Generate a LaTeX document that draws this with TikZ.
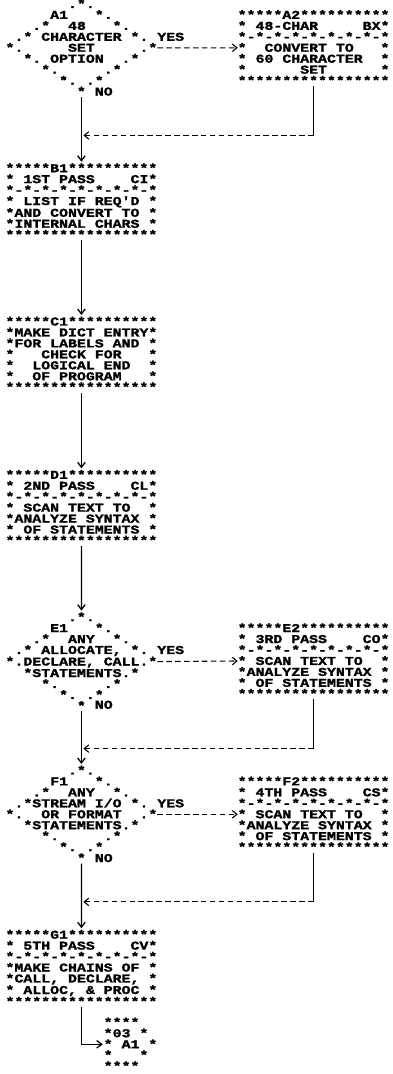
\documentclass[tikz,border=0pt]{standalone}
\usepackage{fontspec}
\newfontfamily\prt{Liberation Mono}[FakeStretch=1.24,FakeBold=1.6]
\usetikzlibrary{arrows.meta}
\newcommand\prfont{\prt\bfseries\fontsize{12pt}{10.95pt}\selectfont\setbox0\hbox{M}\fontdimen2\font=\wd0\relax}
\newcommand\prline[1]{\hbox{\vrule width0pt height9.4pt depth1.55pt\relax#1}}
\newcommand\prblock[1]{\vtop{\offinterlineskip#1}}
\tikzset{
  chart/.style={inner sep=0pt,outer sep=0pt,anchor=north west,font=\prfont},
  lbl/.style={inner sep=0pt,outer sep=0pt,anchor=north west,font=\prfont},
  flow/.style={line width=1.3pt,-{Straight Barb[length=5pt,width=7.5pt]},shorten >=1pt},
  wire/.style={line width=1.3pt},
  dflow/.style={line width=1.1pt,dash pattern=on 5.5pt off 3.43pt,-{Straight Barb[length=4.5pt,width=7.5pt]}},
}
\begin{document}
\begin{tikzpicture}[x=8.93pt,y=-10.95pt]
\useasboundingbox[fill=white] (-10pt,4pt) rectangle (382pt,-1070pt);

% ---------- A row ----------
\node[chart] (A1) at (-0.5,-0.5) {\prblock{%
\prline{~~~~~~~.*.}
\prline{~~~~~A1~~~*.}
\prline{~~~.*~~48~~~*.}
\prline{~.*~CHARACTER~*.}
\prline{*.~~~~~SET~~~~~.*}
\prline{~~*.~OPTION~~.*}
\prline{~~~~*.~~~~~.*}
\prline{~~~~~~*.~.*}
\prline{~~~~~~~~*}}};
\node[lbl] (A1yes) at (16.5,2.5) {\prblock{\prline{YES}}};
\node[lbl] (A1no) at (9.5,7.5) {\prblock{\prline{NO}}};

\node[chart] (A2) at (25.5,0.5) {\prblock{%
\prline{*****A2**********}
\prline{*~48-CHAR~~~~~BX*}
\prline{*-*-*-*-*-*-*-*-*}
\prline{*~~CONVERT~TO~~~*}
\prline{*~60~CHARACTER~~*}
\prline{*~~~~~~SET~~~~~~*}
\prline{*****************}}};

% ---------- B, C, D ----------
\node[chart] (B1) at (-0.5,14.5) {\prblock{%
\prline{*****B1**********}
\prline{*~1ST~PASS~~~~CI*}
\prline{*-*-*-*-*-*-*-*-*}
\prline{*~LIST~IF~REQ'D~*}
\prline{*AND~CONVERT~TO~*}
\prline{*INTERNAL~CHARS~*}
\prline{*****************}}};

\node[chart] (C1) at (-0.5,28.5) {\prblock{%
\prline{*****C1**********}
\prline{*MAKE~DICT~ENTRY*}
\prline{*FOR~LABELS~AND~*}
\prline{*~~~CHECK~FOR~~~*}
\prline{*~~LOGICAL~END~~*}
\prline{*~~OF~PROGRAM~~~*}
\prline{*****************}}};

\node[chart] (D1) at (-0.5,42.5) {\prblock{%
\prline{*****D1**********}
\prline{*~2ND~PASS~~~~CL*}
\prline{*-*-*-*-*-*-*-*-*}
\prline{*~SCAN~TEXT~TO~~*}
\prline{*ANALYZE~SYNTAX~*}
\prline{*~OF~STATEMENTS~*}
\prline{*****************}}};

% ---------- E row ----------
\node[chart] (E1) at (-0.5,55.5) {\prblock{%
\prline{~~~~~~~.*.}
\prline{~~~~~E1~~~*.}
\prline{~~~.*~~ANY~~*.}
\prline{~.*~ALLOCATE,~*.}
\prline{*.DECLARE,~CALL.*}
\prline{~~*STATEMENTS.*}
\prline{~~~~*.~~~~~.*}
\prline{~~~~~~*.~.*}
\prline{~~~~~~~~*}}};
\node[lbl] (E1yes) at (16.5,58.5) {\prblock{\prline{YES}}};
\node[lbl] (E1no) at (9.5,63.5) {\prblock{\prline{NO}}};

\node[chart] (E2) at (25.5,56.5) {\prblock{%
\prline{*****E2**********}
\prline{*~3RD~PASS~~~~CO*}
\prline{*-*-*-*-*-*-*-*-*}
\prline{*~SCAN~TEXT~TO~~*}
\prline{*ANALYZE~SYNTAX~*}
\prline{*~OF~STATEMENTS~*}
\prline{*****************}}};

% ---------- F row ----------
\node[chart] (F1) at (-0.5,69.5) {\prblock{%
\prline{~~~~~~~.*.}
\prline{~~~~~F1~~~*.}
\prline{~~~.*~~ANY~~*.}
\prline{~.*STREAM~I/O~*.}
\prline{*.~~OR~FORMAT~~.*}
\prline{~~*STATEMENTS.*}
\prline{~~~~*.~~~~~.*}
\prline{~~~~~~*.~.*}
\prline{~~~~~~~~*}}};
\node[lbl] (F1yes) at (16.5,72.5) {\prblock{\prline{YES}}};
\node[lbl] (F1no) at (9.5,77.5) {\prblock{\prline{NO}}};

\node[chart] (F2) at (25.5,70.5) {\prblock{%
\prline{*****F2**********}
\prline{*~4TH~PASS~~~~CS*}
\prline{*-*-*-*-*-*-*-*-*}
\prline{*~SCAN~TEXT~TO~~*}
\prline{*ANALYZE~SYNTAX~*}
\prline{*~OF~STATEMENTS~*}
\prline{*****************}}};

% ---------- G row ----------
\node[chart] (G1) at (-0.5,84.5) {\prblock{%
\prline{*****G1**********}
\prline{*~5TH~PASS~~~~CV*}
\prline{*-*-*-*-*-*-*-*-*}
\prline{*MAKE~CHAINS~OF~*}
\prline{*CALL,~DECLARE,~*}
\prline{*~ALLOC,~\&~PROC~*}
\prline{*****************}}};

\node[chart] (C03) at (10.5,92.5) {\prblock{%
\prline{****}
\prline{*03~*}
\prline{*~A1~*}
\prline{*~~~*}
\prline{****}}};

% ---------- junctions ----------
\coordinate (jA) at (8,12);
\coordinate (jE) at (8,68);
\coordinate (jF) at (8,82);

% ---------- connectors ----------
\draw[flow] (A1.south) -- (B1.north);
\draw[dflow] (A1.east) -- (A2.west);
\draw[wire] (A2.south) -- (A2.south |- jA);
\draw[dflow] (A2.south |- jA) -- ([xshift=2pt]jA);

\draw[flow] (B1.south) -- (C1.north);
\draw[flow] (C1.south) -- (D1.north);
\draw[flow] (D1.south) -- (E1.north);

\draw[dflow] (E1.east) -- (E2.west);
\draw[flow] (E1.south) -- (F1.north);
\draw[wire] (E2.south) -- (E2.south |- jE);
\draw[dflow] (E2.south |- jE) -- ([xshift=2pt]jE);

\draw[dflow] (F1.east) -- (F2.west);
\draw[flow] (F1.south) -- (G1.north);
\draw[wire] (F2.south) -- (F2.south |- jF);
\draw[dflow] (F2.south |- jF) -- ([xshift=2pt]jF);

\draw[flow] (G1.south) |- (C03.west);
\end{tikzpicture}
\end{document}
